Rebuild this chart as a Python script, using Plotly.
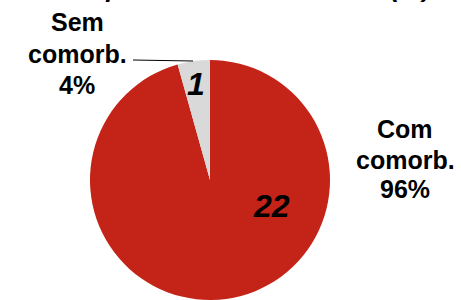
import plotly.graph_objects as go

categories = ["Com comorb.", "Sem comorb."]
values = [22, 1]
colors = ["#C42318", "#D9D9D9"]
title_text = "Grupo com comorbidades (%)"

total = sum(values)
pcts = [round(v * 100 / total) for v in values]

W, H = 461, 300


def px(x):
    return x / W


def py(y):
    return 1 - y / H


fig = go.Figure()
fig.add_trace(go.Pie(
    labels=categories,
    values=values,
    sort=False,
    direction="clockwise",
    rotation=0,
    marker=dict(colors=colors, line=dict(width=0)),
    textinfo="none",
    hoverinfo="label+value+percent",
    showlegend=False,
    domain=dict(x=[px(90), px(330)], y=[0.0, 0.8]),
))

FAM = "Liberation Sans, Arial"
font_lbl = dict(family=FAM, size=25, color="black")
font_num = dict(family=FAM, size=32, color="black")

annotations = []


def label_block(cx, baselines, cat, pct):
    parts = cat.split(" ") + ["%d%%" % pct]
    for t, b in zip(parts, baselines):
        annotations.append(dict(
            x=px(cx), y=py(b - 7.5), text="<b>%s</b>" % t, font=font_lbl,
            showarrow=False, xanchor="center", yanchor="middle"))


label_block(77, [30, 62, 92], categories[1], pcts[1])
label_block(405, [136, 167, 196], categories[0], pcts[0])

annotations += [
    dict(x=px(196), y=py(84), text="<b><i>%d</i></b>" % values[1],
         font=font_num, showarrow=False, xanchor="center", yanchor="middle"),
    dict(x=px(271), y=py(206), text="<b><i>%d</i></b>" % values[0],
         font=font_num, showarrow=False, xanchor="center", yanchor="middle"),
    # title, cut off at the top edge as in the reference
    dict(x=px(245), y=py(5), text="<b><i>%s</i></b>" % title_text,
         font=dict(family=FAM, size=26, color="black"),
         showarrow=False, xanchor="center", yanchor="bottom"),
]

fig.update_layout(
    width=W, height=H,
    margin=dict(l=0, r=0, t=0, b=0),
    paper_bgcolor="white", plot_bgcolor="white",
    annotations=annotations,
    shapes=[dict(type="line", xref="paper", yref="paper",
                 x0=px(133), y0=py(60), x1=px(193), y1=py(61),
                 line=dict(color="black", width=1))],
)

fig.write_html("out.html", config={"displayModeBar": False},
               post_script="document.body.style.margin='0';")
